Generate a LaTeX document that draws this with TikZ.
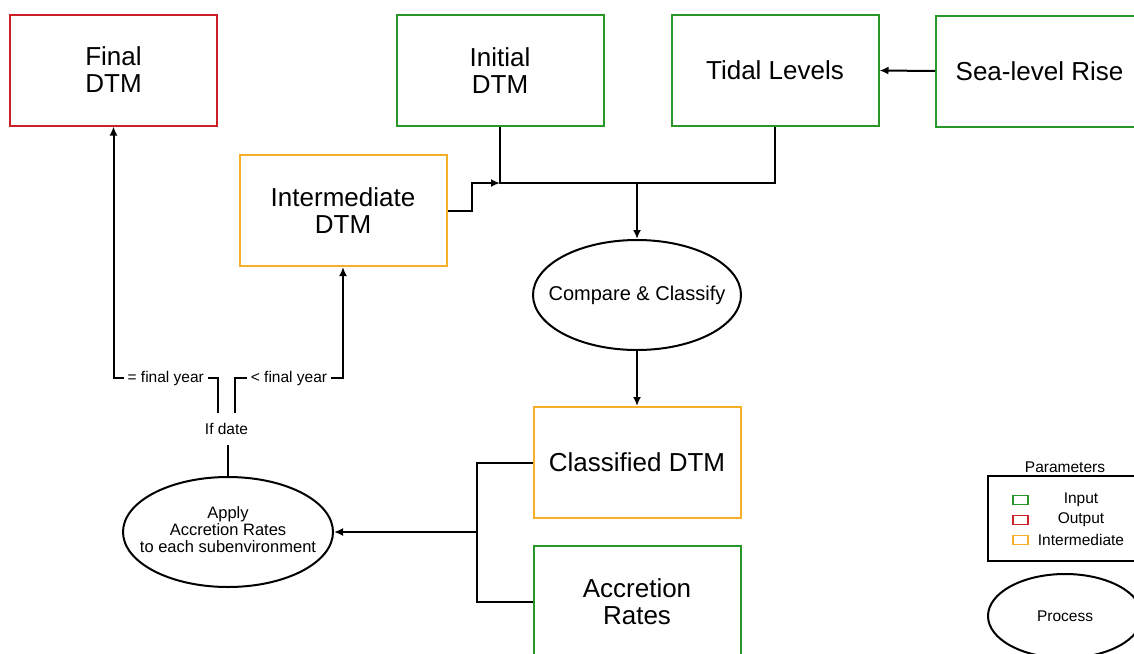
\documentclass[tikz,border=0pt]{standalone}
\usepackage{fontspec}
\setmainfont{Liberation Sans}
\usetikzlibrary{arrows.meta,positioning,calc,shapes.geometric}
\definecolor{ingreen}{RGB}{40,150,40}
\definecolor{outred}{RGB}{204,32,40}
\definecolor{midorange}{RGB}{245,175,40}

\begin{document}
\begin{tikzpicture}[x=1pt,y=-1pt,>={Latex[length=9pt,width=8pt]},line width=2pt,
  box/.style={draw,line width=2pt,minimum width=207pt,minimum height=111pt,inner sep=0pt,align=center,font=\fontsize{26}{27}\selectfont},
  proc/.style={inner sep=0pt,align=center},
  procline/.style={draw,line width=2pt},
  lbl/.style={fill=white,inner sep=4pt,font=\fontsize{15.5}{17}\selectfont},
  swatch/.style={draw,line width=1.8pt,minimum width=15pt,minimum height=9pt,inner sep=0pt}]
\clip (0,0) rectangle (1134,653);
\fill[white] (0,0) rectangle (1134,653);
% inputs and outputs
\node[box,draw=outred] (final) at (113.5,70) {Final\\DTM};
\node[box,draw=ingreen] (initial) at (500,70.5) {Initial\\DTM};
\node[box,draw=ingreen] (tidal) at (775,70.5) {Tidal Levels};
\node[box,draw=ingreen] (slr) at (1039.5,71) {Sea-level Rise};
\node[box,draw=midorange] (inter) at (343,210.5) {Intermediate\\DTM};
\node[box,draw=midorange] (classified) at (637,462.5) {Classified DTM};
\node[box,draw=ingreen] (accretion) at (637,601.5) {Accretion\\Rates};
% processes
\node[proc,minimum width=208pt,minimum height=110pt,font=\fontsize{20}{21}\selectfont] (compare) at (637,295) {Compare \& Classify};
\draw[procline] (compare.center) ellipse [x radius=104pt,y radius=55pt];
\node[proc,minimum width=210pt,minimum height=110pt,font=\fontsize{16.5}{17}\selectfont] (apply) at (228,532) {\raisebox{4pt}{\begin{tabular}{@{}c@{}}Apply\\Accretion Rates\\to each subenvironment\end{tabular}}};
\draw[procline] (apply.center) ellipse [x radius=105pt,y radius=55pt];
\node[inner sep=0pt,minimum height=30pt,font=\fontsize{15.5}{17}\selectfont] (ifdate) at (226.5,429) {If date};
\coordinate (join) at (637,183);
\coordinate (split) at (477,532);
\coordinate (lvl) at (0,378);
% connectors
\draw (initial.south) |- (tidal.south |- join) -- (tidal.south);
\draw[->] (join) -- (compare.north);
\draw[->] (slr.west) -- (tidal.east);
\draw[->] (inter.east) -- ++(24,0) |- (initial.south |- join);
\draw[->] (compare.south) -- (classified.north);
\draw (classified.west) -| (split) |- (accretion.west);
\draw[->] (split) -- (apply.east);
\draw (apply.north) -- (apply.north |- ifdate.south);
\draw[->] ([xshift=-8.5pt]ifdate.north) |- node[lbl,pos=0.75] {= final year} (final.south |- lvl) -- (final.south);
\draw[->] ([xshift=8.5pt]ifdate.north) |- node[lbl,pos=0.75] {< final year} (inter.south |- lvl) -- (inter.south);
% legend
\node[draw,line width=2pt,minimum width=156pt,minimum height=85pt,inner sep=0pt] (legend) at (1066,518.5) {};
\node[font=\fontsize{15.5}{17}\selectfont] (legtitle) at (1065,467) {Parameters};
\foreach \name/\col/\txt/\y in {input/ingreen/Input/500,output/outred/Output/520,middle/midorange/Intermediate/540} {
  \node[swatch,draw=\col] (sw\name) at (1020.5,\y) {};
  \node[font=\fontsize{15.5}{17}\selectfont] (lab\name) at (1081,\y) {\txt};
}
\node[proc,minimum width=154pt,minimum height=84pt,font=\fontsize{15.5}{17}\selectfont] (process) at (1065,616) {Process};
\draw[procline] (process.center) ellipse [x radius=77pt,y radius=42pt];
\end{tikzpicture}
\end{document}
